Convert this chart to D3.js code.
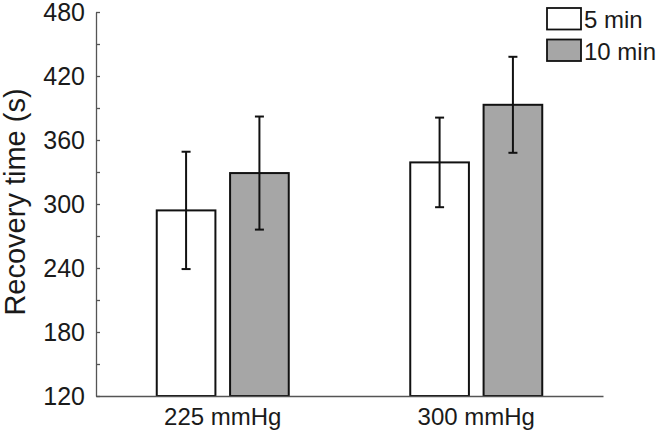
<!DOCTYPE html>
<html>
<head>
<meta charset="utf-8">
<script src="https://cdn.jsdelivr.net/npm/d3@7"></script>
<style>
  html, body { margin: 0; padding: 0; background: #fff; }
  text { font-family: "Liberation Sans", Arial, sans-serif; fill: #1a1a1a; }
</style>
</head>
<body>
<svg id="chart" width="656" height="438"></svg>
<script>
const categories = ["225 mmHg", "300 mmHg"];
const seriesNames = ["5 min", "10 min"];
const values5 = [294, 339];
const errors5 = [55, 42];
const values10 = [329, 393];
const errors10 = [53, 45];
const yTicks = [120, 180, 240, 300, 360, 420, 480];
const yMinorTicks = [150, 210, 270, 330, 390, 450];
const fills = ["#ffffff", "#a6a6a6"];

const svg = d3.select("#chart");
const y = d3.scaleLinear().domain([120, 480]).range([396, 12]);
const x0 = d3.scaleBand().domain(categories).range([96, 603]).padding(0);
const x1 = d3.scaleBand().domain(seriesNames).range([-66, 66]).paddingInner(0.2);

const data = [];
categories.forEach((c, i) => {
  data.push({cat: c, s: seriesNames[0], v: values5[i], e: errors5[i]});
  data.push({cat: c, s: seriesNames[1], v: values10[i], e: errors10[i]});
});
const fillOf = d3.scaleOrdinal().domain(seriesNames).range(fills);
const cx = d => x0(d.cat) + x0.bandwidth() / 2 + x1(d.s);

// bars
svg.append("g").selectAll("rect").data(data).join("rect")
  .attr("x", d => cx(d))
  .attr("y", d => y(d.v))
  .attr("width", x1.bandwidth())
  .attr("height", d => y(120) - y(d.v))
  .attr("fill", d => fillOf(d.s))
  .attr("stroke", "#111")
  .attr("stroke-width", 2);

// error bars
const eg = svg.append("g").attr("stroke", "#111").attr("stroke-width", 2);
data.forEach(d => {
  const mx = cx(d) + x1.bandwidth() / 2;
  eg.append("line").attr("x1", mx).attr("x2", mx).attr("y1", y(d.v + d.e)).attr("y2", y(d.v - d.e));
  eg.append("line").attr("x1", mx - 4.5).attr("x2", mx + 4.5).attr("y1", y(d.v + d.e)).attr("y2", y(d.v + d.e));
  eg.append("line").attr("x1", mx - 4.5).attr("x2", mx + 4.5).attr("y1", y(d.v - d.e)).attr("y2", y(d.v - d.e));
});

// y axis
const yAxis = d3.axisLeft(y).tickValues(yTicks).tickSizeInner(-4).tickSizeOuter(0).tickPadding(11);
const gy = svg.append("g").attr("transform", "translate(96,0)").call(yAxis);
gy.select(".domain").attr("stroke", "#555").attr("stroke-width", 1.3);
gy.selectAll(".tick line").attr("stroke", "#555").attr("stroke-width", 1.3);
gy.selectAll(".tick text").attr("font-size", 25).attr("fill", "#1a1a1a")
  .style("font-family", "Liberation Sans, Arial, sans-serif");
const gyMinor = svg.append("g").attr("transform", "translate(96,0)")
  .call(d3.axisLeft(y).tickValues(yMinorTicks).tickSizeInner(-4).tickSizeOuter(0).tickFormat(""));
gyMinor.select(".domain").remove();
gyMinor.selectAll(".tick line").attr("stroke", "#555").attr("stroke-width", 1.3);

// x axis
const xAxis = d3.axisBottom(x0).tickSize(0).tickPadding(12);
const gx = svg.append("g").attr("transform", "translate(0,396)").call(xAxis);
gx.select(".domain").attr("stroke", "#555").attr("stroke-width", 1.3);
gx.selectAll(".tick text").attr("font-size", 24).attr("fill", "#1a1a1a")
  .style("font-family", "Liberation Sans, Arial, sans-serif");

// y label
svg.append("text")
  .attr("transform", "translate(25,202) rotate(-90)")
  .attr("text-anchor", "middle")
  .attr("font-size", 29)
  .text("Recovery time (s)");

// legend
const lg = svg.append("g");
seriesNames.forEach((s, i) => {
  lg.append("rect").attr("x", 547).attr("y", 8 + i * 31.5).attr("width", 34).attr("height", 21.5)
    .attr("fill", fills[i]).attr("stroke", "#111").attr("stroke-width", 1.8);
  lg.append("text").attr("x", 584).attr("y", 28 + i * 32).attr("font-size", 24).text(s);
});
</script>
</body>
</html>
